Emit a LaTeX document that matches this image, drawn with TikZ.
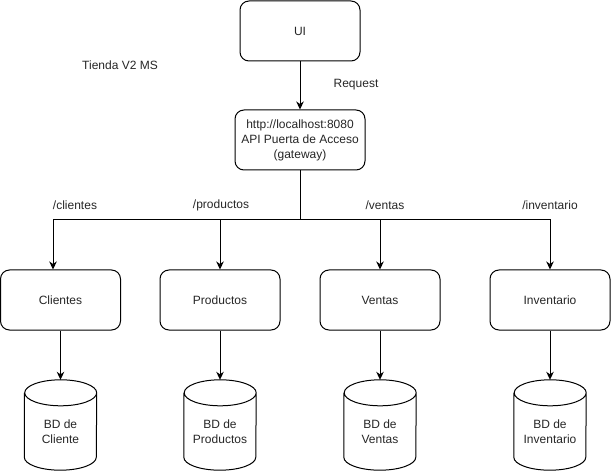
\documentclass[tikz,border=0pt]{standalone}
\usepackage{fontspec}
\setmainfont{Liberation Sans}
\usetikzlibrary{arrows.meta,calc}
\begin{document}
\begin{tikzpicture}[x=1pt,y=1pt,
  every node/.style={font=\fontsize{12}{15}\selectfont, text=black!85},
  box/.style={draw, line width=1pt, rounded corners=9pt, fill=white,
    minimum width=120pt, minimum height=60pt, align=center, inner sep=0pt},
  dbbody/.style={minimum width=72pt, minimum height=77pt, align=center, inner sep=0pt},
  arr/.style={line width=1pt, -{Stealth[length=8pt,width=7.5pt,inset=2.5pt]}},
  link/.style={line width=1pt},
  lbl/.style={inner sep=0pt}]
\useasboundingbox (0,0) rectangle (611,472);

% client and gateway
\node[box] (ui) at (300,441) {UI};
\node[box, minimum width=130pt] (gw) at (300,332)
  {http://localhost:8080\\API Puerta de Acceso\\(gateway)};
\node[lbl] (req) at (356,387) {Request};
\node[lbl] (title) at (120,407) {Tienda V2 MS};

% microservices
\node[box] (cli) at (60.5,172) {Clientes};
\node[box] (pro) at (220,172) {Productos};
\node[box] (ven) at (380,172) {Ventas};
\node[box] (inv) at (550,172) {Inventario};

% route labels
\node[lbl] (rcli) at (75,267) {/clientes};
\node[lbl] (rpro) at (221,267) {/productos};
\node[lbl] (rven) at (385,267) {/ventas};
\node[lbl] (rinv) at (550,267) {/inventario};

% databases
\node[dbbody] (dcli) at (60.5,40.5) {BD de\\Cliente};
\node[dbbody] (dpro) at (220,40.5) {BD de\\Productos};
\node[dbbody] (dven) at (380,40.5) {BD de\\Ventas};
\node[dbbody] (dinv) at (550,40.5) {BD de\\Inventario};
\foreach \n in {dcli,dpro,dven,dinv}{
  \draw[line width=1pt] (\n.north west) -- ($(\n.south west)+(0,13)$)
    arc[start angle=180,end angle=360,x radius=36,y radius=13]
    -- (\n.north east)
    arc[start angle=0,end angle=180,x radius=36,y radius=13]
    arc[start angle=180,end angle=360,x radius=36,y radius=13];
  \coordinate (\n-top) at ($(\n.north)+(0,13)$);
}

% connectors
\coordinate (split) at (300,252);
\draw[arr] (ui) -- (gw);
\draw[link] (gw) -- (split);
\draw[arr] (split) -| ([xshift=-7.5pt]cli.north);
\draw[arr] (split) -| (pro.north);
\draw[arr] (split) -| (ven.north);
\draw[arr] (split) -| (inv.north);
\draw[arr] (cli.south) -- (dcli-top);
\draw[arr] (pro.south) -- (dpro-top);
\draw[arr] (ven.south) -- (dven-top);
\draw[arr] (inv.south) -- (dinv-top);
\end{tikzpicture}
\end{document}
